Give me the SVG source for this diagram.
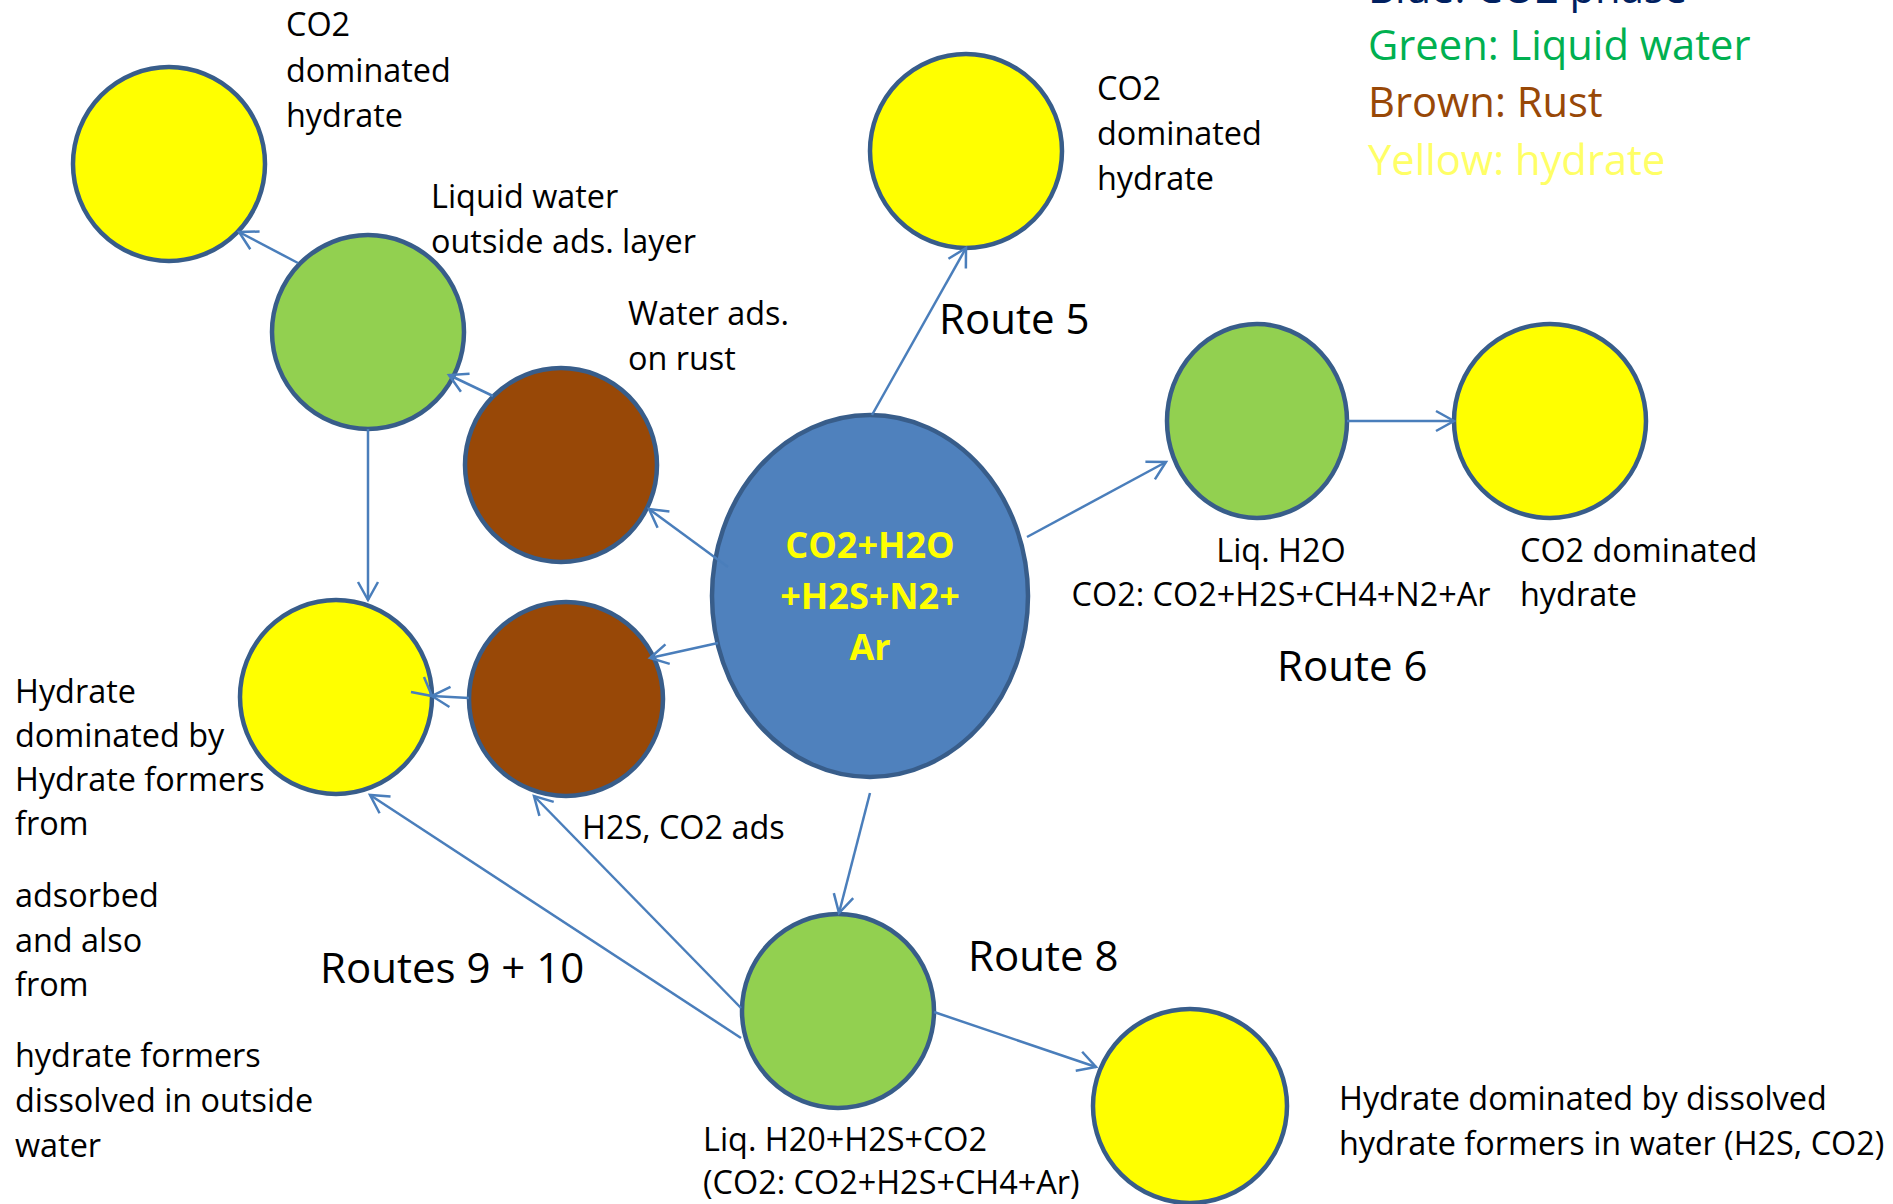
<svg xmlns="http://www.w3.org/2000/svg" width="1893" height="1204" viewBox="0 0 1893 1204">
<style>
.node{stroke:#385D8A;stroke-width:4.5}
.yel{fill:#FFFF00}
.grn{fill:#92D050}
.brn{fill:#984807}
.blu{fill:#4F81BD}
.lbl{font-family:"Open Sans","Liberation Sans",sans-serif;font-size:32.4px;fill:#000}
.big{font-family:"Open Sans","Liberation Sans",sans-serif;font-size:42px;fill:#000}
.leg{font-family:"Open Sans","Liberation Sans",sans-serif;font-size:41.7px}
.ctr{font-family:"Open Sans","Liberation Sans",sans-serif;font-size:36px;font-weight:bold;fill:#FFFF00;text-anchor:middle}
.con{stroke:#4A7EBB;stroke-width:2.5;fill:none;marker-end:url(#arr)}
</style>
<defs>
<marker id="arr" markerUnits="userSpaceOnUse" markerWidth="26" markerHeight="26" viewBox="-22 -13 24 26" refX="0" refY="0" orient="auto">
<path d="M-18,-10 L0,0 L-18,10" fill="none" stroke="#4A7EBB" stroke-width="2.5"/>
</marker>
</defs>
<rect width="1893" height="1204" fill="#fff"/>

<g id="legend" class="leg">
<text x="1368" y="3" fill="#002060">Blue: CO2 phase</text>
<text x="1368" y="60" fill="#00B050">Green: Liquid water</text>
<text x="1368" y="117" fill="#984807">Brown: Rust</text>
<text x="1368" y="175" fill="#FFFF66">Yellow: hydrate</text>
</g>

<g id="node-hydrate-tl">
<ellipse class="node yel" cx="169" cy="164" rx="96" ry="97"/>
<text class="lbl" x="286" y="36">CO2</text>
<text class="lbl" x="286" y="82">dominated</text>
<text class="lbl" x="286" y="127">hydrate</text>
</g>

<g id="node-liquid-water-outside">
<ellipse class="node grn" cx="368" cy="332" rx="96" ry="97"/>
<text class="lbl" x="431" y="208">Liquid water</text>
<text class="lbl" x="431" y="253">outside ads. layer</text>
</g>

<g id="node-water-ads-rust">
<ellipse class="node brn" cx="561" cy="465" rx="96" ry="97"/>
<text class="lbl" x="628" y="325">Water ads.</text>
<text class="lbl" x="628" y="370">on rust</text>
</g>

<g id="node-co2-phase">
<ellipse class="node blu" cx="870" cy="596" rx="158" ry="181"/>
<text class="ctr" x="870" y="558">CO2+H2O</text>
<text class="ctr" x="870" y="609">+H2S+N2+</text>
<text class="ctr" x="870" y="660">Ar</text>
</g>

<g id="node-hydrate-top">
<ellipse class="node yel" cx="966" cy="151" rx="96" ry="97"/>
<text class="lbl" x="1097" y="100">CO2</text>
<text class="lbl" x="1097" y="145">dominated</text>
<text class="lbl" x="1097" y="190">hydrate</text>
</g>

<g id="node-liq-h2o-right">
<ellipse class="node grn" cx="1257" cy="421" rx="90" ry="97"/>
<text class="lbl" x="1281" y="562" text-anchor="middle">Liq. H2O</text>
<text class="lbl" x="1281" y="606" text-anchor="middle">CO2: CO2+H2S+CH4+N2+Ar</text>
</g>

<g id="node-hydrate-right">
<ellipse class="node yel" cx="1550" cy="421" rx="96" ry="97"/>
<text class="lbl" x="1520" y="562">CO2 dominated</text>
<text class="lbl" x="1520" y="606">hydrate</text>
</g>

<g id="node-hydrate-left">
<ellipse class="node yel" cx="336" cy="697" rx="96" ry="97"/>
<text class="lbl" x="15" y="703">Hydrate</text>
<text class="lbl" x="15" y="747">dominated by</text>
<text class="lbl" x="15" y="791">Hydrate formers</text>
<text class="lbl" x="15" y="835">from</text>
<text class="lbl" x="15" y="907">adsorbed</text>
<text class="lbl" x="15" y="952">and also</text>
<text class="lbl" x="15" y="996">from</text>
<text class="lbl" x="15" y="1067">hydrate formers</text>
<text class="lbl" x="15" y="1112">dissolved in outside</text>
<text class="lbl" x="15" y="1157">water</text>
</g>

<g id="node-rust-ads">
<ellipse class="node brn" cx="566" cy="699" rx="97" ry="97"/>
<text class="lbl" x="582" y="839">H2S, CO2 ads</text>
</g>

<g id="node-liq-h2o-bottom">
<ellipse class="node grn" cx="838" cy="1011" rx="96" ry="97"/>
<text class="lbl" x="703" y="1151">Liq. H20+H2S+CO2</text>
<text class="lbl" x="703" y="1194">(CO2: CO2+H2S+CH4+Ar)</text>
</g>

<g id="node-hydrate-bottom">
<ellipse class="node yel" cx="1190" cy="1106" rx="97" ry="97"/>
<text class="lbl" x="1339" y="1110">Hydrate dominated by dissolved</text>
<text class="lbl" x="1339" y="1155">hydrate formers in water (H2S, CO2)</text>
</g>

<g id="route-labels">
<text class="big" x="939" y="334">Route 5</text>
<text class="big" x="1277" y="681">Route 6</text>
<text class="big" x="968" y="971">Route 8</text>
<text class="big" x="320" y="983">Routes 9 + 10</text>
</g>

<g id="connectors">
<line class="con" x1="298" y1="263" x2="239" y2="232"/>
<line class="con" x1="493" y1="396" x2="449" y2="375"/>
<line class="con" x1="728" y1="567" x2="649" y2="509"/>
<line class="con" x1="718" y1="643" x2="650" y2="658"/>
<line class="con" x1="469" y1="698" x2="432" y2="696"/>
<path d="M411,692 L432,696 L424,677" stroke="#4A7EBB" stroke-width="2.5" fill="none"/>
<line class="con" x1="368" y1="429" x2="368" y2="600"/>
<line class="con" x1="872" y1="415" x2="966" y2="248"/>
<line class="con" x1="1027" y1="537" x2="1166" y2="462"/>
<line class="con" x1="1347" y1="421" x2="1454" y2="421"/>
<line class="con" x1="870" y1="793" x2="839" y2="913"/>
<line class="con" x1="934" y1="1012" x2="1096" y2="1067"/>
<line class="con" x1="741" y1="1008" x2="534" y2="796"/>
<line class="con" x1="741" y1="1038" x2="370" y2="795"/>
</g>
</svg>
